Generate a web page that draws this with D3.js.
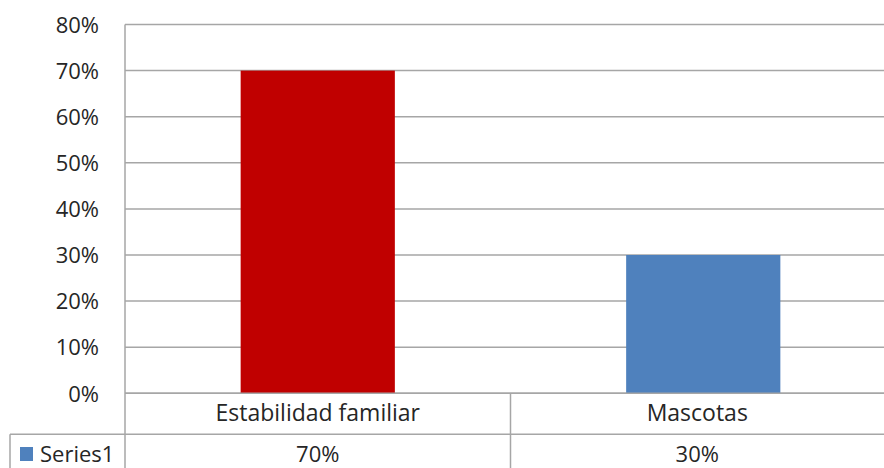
<!DOCTYPE html>
<html><head><meta charset="utf-8">
<script src="https://cdn.jsdelivr.net/npm/d3@7"></script>
<style>
html,body{margin:0;padding:0;background:#fff;}
svg{display:block;font-family:"Open Sans",sans-serif;}
</style></head>
<body>
<svg id="c" width="884" height="468"></svg>
<script>
const categories = ["Estabilidad familiar", "Mascotas"];
const values = [0.70, 0.30];
const barColors = ["#C00000", "#4F81BD"];
const seriesName = "Series1";
const yTicks = [0, 0.1, 0.2, 0.3, 0.4, 0.5, 0.6, 0.7, 0.8];

const svg = d3.select("#c");
const pLeft = 125, pRight = 896, pTop = 24.5, pBottom = 393.3;
const gridColor = "#a6a6a6", textColor = "#262626";
const fs = 22, fsCat = 23;

const x = d3.scaleBand().domain(categories).range([pLeft, pRight]).paddingInner(0).paddingOuter(0);
const y = d3.scaleLinear().domain([0, 0.8]).range([pBottom, pTop]);

// gridlines + y labels
const yAxis = d3.axisLeft(y).tickValues(yTicks).tickFormat(d3.format(".0%")).tickSize(0).tickPadding(26);
const gy = svg.append("g").attr("transform", `translate(${pLeft},0)`).call(yAxis);
gy.select(".domain").remove();
gy.selectAll("text").attr("font-size", fs).attr("fill", textColor).attr("font-family", "Open Sans").attr("dy", "0.35em");

svg.append("g").selectAll("line").data(yTicks).join("line")
  .attr("x1", pLeft).attr("x2", pRight)
  .attr("y1", d => y(d)).attr("y2", d => y(d))
  .attr("stroke", gridColor).attr("stroke-width", 1.5);

// bars
const bw = x.bandwidth() * 0.4;
svg.append("g").selectAll("rect").data(categories).join("rect")
  .attr("x", d => x(d) + (x.bandwidth() - bw) / 2)
  .attr("width", bw)
  .attr("y", (d, i) => y(values[i]))
  .attr("height", (d, i) => y(0) - y(values[i]))
  .attr("fill", (d, i) => barColors[i]);

// table
const row1 = 434.3, tableLeft = 10, H = 468;
const lines = svg.append("g").attr("stroke", gridColor).attr("stroke-width", 1.5);
lines.append("line").attr("x1", pLeft).attr("x2", pLeft).attr("y1", pTop).attr("y2", H);
lines.append("line").attr("x1", pLeft).attr("x2", pRight).attr("y1", pBottom).attr("y2", pBottom);
lines.append("line").attr("x1", tableLeft).attr("x2", pRight).attr("y1", row1).attr("y2", row1);
lines.append("line").attr("x1", tableLeft).attr("x2", tableLeft).attr("y1", row1).attr("y2", H);
categories.slice(1).forEach(c => {
  lines.append("line").attr("x1", x(c)).attr("x2", x(c)).attr("y1", pBottom).attr("y2", H);
});

svg.append("g").selectAll("text").data(categories).join("text")
  .attr("x", d => x(d) + x.bandwidth() / 2 - (d === categories[1] ? 6 : 0))
  .attr("y", 421)
  .attr("text-anchor", "middle").attr("font-size", fsCat).attr("fill", textColor)
  .text(d => d);

svg.append("g").selectAll("text").data(categories).join("text")
  .attr("x", d => x(d) + x.bandwidth() / 2 - (d === categories[1] ? 6 : 0))
  .attr("y", 462)
  .attr("text-anchor", "middle").attr("font-size", fs).attr("fill", textColor)
  .text((d, i) => d3.format(".0%")(values[i]));

svg.append("rect").attr("x", 20).attr("y", 447).attr("width", 13).attr("height", 14).attr("fill", barColors[1]);
svg.append("text").attr("x", 40).attr("y", 462).attr("font-size", fs).attr("fill", textColor).text(seriesName);
</script>
</body></html>
